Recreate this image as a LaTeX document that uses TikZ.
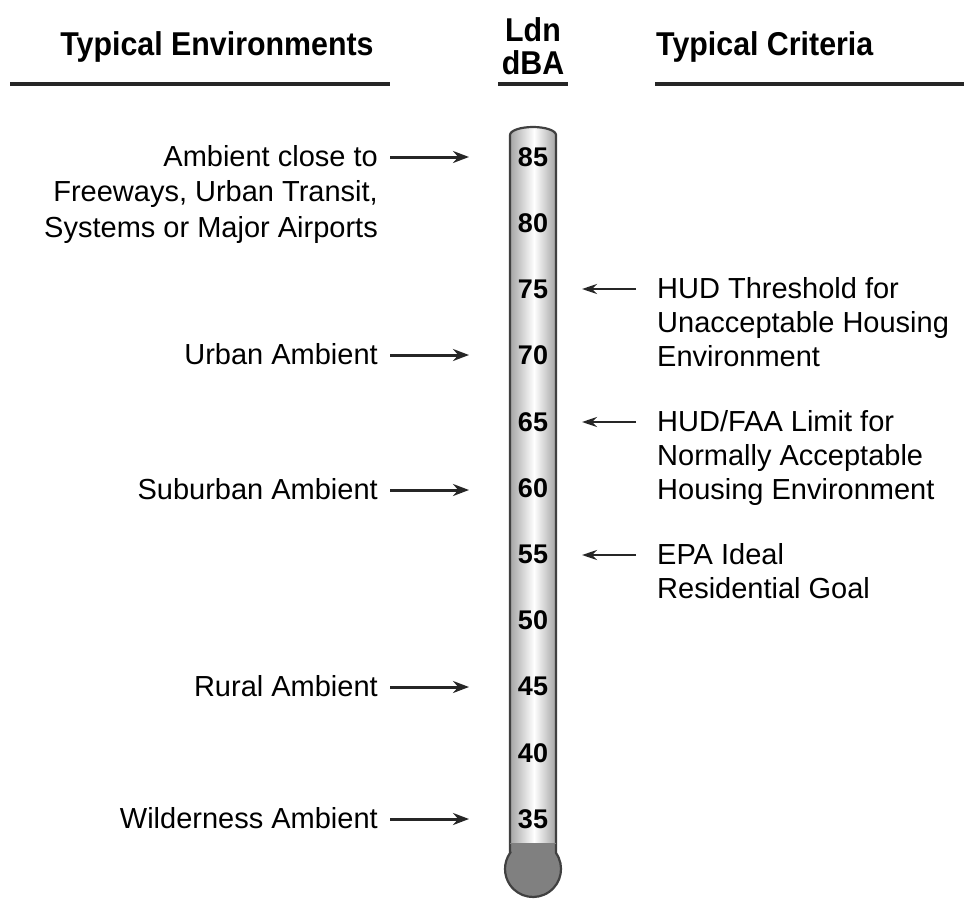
\documentclass[tikz,border=0pt]{standalone}
\usepackage{fontspec}
\setmainfont{Liberation Sans}
\usetikzlibrary{arrows.meta}
\begin{document}
\begin{tikzpicture}[x=1pt,y=-1pt,
  hdr/.style={font=\fontsize{33}{36}\selectfont\bfseries, inner sep=0pt},
  rule/.style={line width=3.2pt, black!85},
  envtext/.style={font=\fontsize{29}{35.5}\selectfont, align=right, anchor=north east, inner sep=0pt},
  crittext/.style={font=\fontsize{29}{34}\selectfont, align=left, anchor=north west, inner sep=0pt},
  num/.style={font=\fontsize{27}{28}\selectfont\bfseries, inner sep=0pt},
  envarrow/.style={line width=3pt, black!85, -{Stealth[length=16pt,width=12pt]}},
  critarrow/.style={line width=2.6pt, black!85, -{Stealth[length=15pt,width=10pt]}}
]
\useasboundingbox (0,0) rectangle (964,900);

% headers
\node[hdr] (henv) at (217,47) {\scalebox{0.92}[1]{Typical Environments}};
\node[hdr] (hldn) at (533,30) {\scalebox{0.92}[1]{Ldn}};
\node[hdr] (hdba) at (533,63) {\scalebox{0.92}[1]{dBA}};
\node[hdr, anchor=west] (hcrit) at (656,47) {\scalebox{0.92}[1]{Typical Criteria}};
\coordinate (l1a) at (10,84); \coordinate (l1b) at (390,84);
\coordinate (l2a) at (498,84); \coordinate (l2b) at (568,84);
\coordinate (l3a) at (655,84); \coordinate (l3b) at (964,84);
\draw[rule] (l1a) -- (l1b);
\draw[rule] (l2a) -- (l2b);
\draw[rule] (l3a) -- (l3b);

% thermometer
\def\tubepath{(510,853) -- (510,135) arc[start angle=180,end angle=360,x radius=23,y radius=8] -- (556,853) arc[start angle=-34.8,end angle=214.8,radius=28] -- cycle}
\shade[left color=black!45, right color=black!50, middle color=white] \tubepath;
\begin{scope}
  \clip \tubepath;
  \fill[black!50] (490,843) rectangle (580,900);
\end{scope}
\draw[line width=2.2pt, black!75] \tubepath;
\draw[line width=1pt, black!50] (510,843) -- (556,843);

% scale numbers
\foreach \v [count=\i from 0] in {85,80,75,70,65,60,55,50,45,40,35} {
  \node[num] (n\v) at (533,{157+\i*66.2}) {\v};
}

% environments (left)
\node[envtext] (e1) at (378,145) {Ambient close to\\Freeways, Urban Transit,\\Systems or Major Airports};
\node[envtext] (e2) at (378,343) {Urban Ambient};
\node[envtext] (e3) at (378,478) {Suburban Ambient};
\node[envtext] (e4) at (378,675) {Rural Ambient};
\node[envtext] (e5) at (378,807) {Wilderness Ambient};

\foreach \k/\y in {1/157,2/355,3/490,4/687,5/819} {
  \coordinate (ea\k) at (390,\y);
  \coordinate (eb\k) at (469,\y);
  \draw[envarrow] (ea\k) -- (eb\k);
}

% criteria (right)
\node[crittext] (c1) at (657,277) {HUD Threshold for\\Unacceptable Housing\\Environment};
\node[crittext] (c2) at (657,410) {HUD/FAA Limit for\\Normally Acceptable\\Housing Environment};
\node[crittext] (c3) at (657,543) {EPA Ideal\\Residential Goal};

\foreach \k/\y in {1/289,2/422,3/555} {
  \coordinate (ca\k) at (636,\y);
  \coordinate (cb\k) at (582,\y);
  \draw[critarrow] (ca\k) -- (cb\k);
}
\end{tikzpicture}
\end{document}
